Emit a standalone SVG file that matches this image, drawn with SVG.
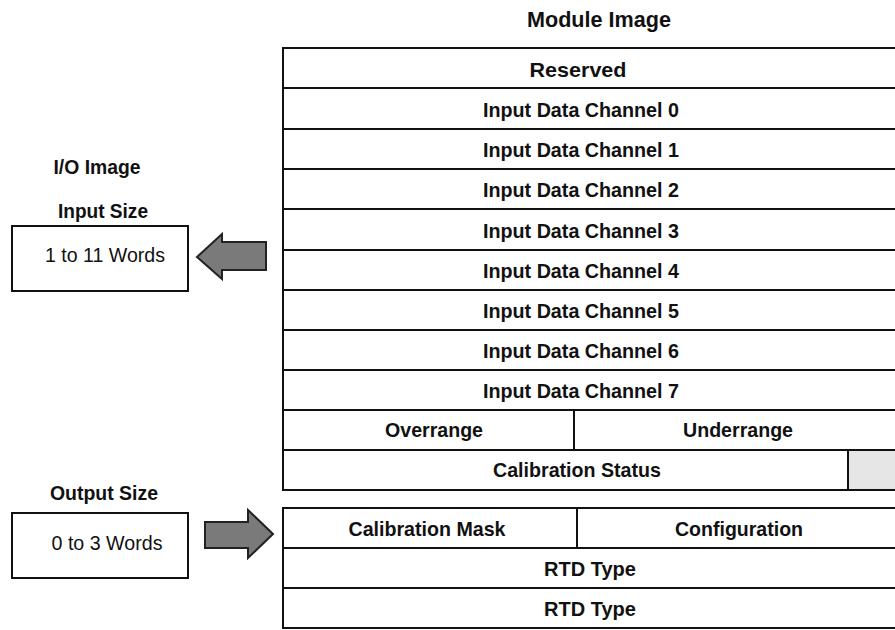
<svg xmlns="http://www.w3.org/2000/svg" width="895" height="630" viewBox="0 0 895 630">
<style>
.cell{fill:#fff;stroke:#111;stroke-width:2}
.gray{fill:#e6e6e6;stroke:#111;stroke-width:2}
.t{font-family:"Liberation Sans",Arial,sans-serif;font-weight:bold;font-size:21px;fill:#111;text-anchor:middle}
.lbl{font-family:"Liberation Sans",Arial,sans-serif;font-weight:bold;font-size:20px;fill:#111;text-anchor:middle}
.reg{font-family:"Liberation Sans",Arial,sans-serif;font-size:20px;fill:#111;text-anchor:middle}
.arrow{fill:#7a7a7a;stroke:#222;stroke-width:2;stroke-linejoin:miter}
</style>
<rect width="895" height="630" fill="#fff"/>
<text class="t" x="599" y="27" style="font-size:22px" textLength="144" lengthAdjust="spacingAndGlyphs">Module Image</text>
<text class="lbl" x="97" y="174" textLength="87" lengthAdjust="spacingAndGlyphs">I/O Image</text>
<text class="lbl" x="103" y="218" textLength="90" lengthAdjust="spacingAndGlyphs">Input Size</text>
<text class="lbl" x="104" y="500" textLength="108" lengthAdjust="spacingAndGlyphs">Output Size</text>

<g id="input-size-box">
<rect class="cell" x="12" y="226" width="176" height="65"/>
<text class="reg" x="105" y="262" textLength="120" lengthAdjust="spacingAndGlyphs">1 to 11 Words</text>
</g>
<g id="output-size-box">
<rect class="cell" x="12" y="513" width="176" height="65"/>
<text class="reg" x="107" y="550" textLength="111" lengthAdjust="spacingAndGlyphs">0 to 3 Words</text>
</g>

<g id="row-reserved"><rect class="cell" x="283" y="48" width="620" height="40"/><text class="t" x="578" y="77" textLength="97" lengthAdjust="spacingAndGlyphs">Reserved</text></g>
<g id="row-ch0"><rect class="cell" x="283" y="88" width="620" height="41"/><text class="t" x="581" y="117" textLength="196" lengthAdjust="spacingAndGlyphs">Input Data Channel 0</text></g>
<g id="row-ch1"><rect class="cell" x="283" y="129" width="620" height="40"/><text class="t" x="581" y="157" textLength="196" lengthAdjust="spacingAndGlyphs">Input Data Channel 1</text></g>
<g id="row-ch2"><rect class="cell" x="283" y="169" width="620" height="40"/><text class="t" x="581" y="197" textLength="196" lengthAdjust="spacingAndGlyphs">Input Data Channel 2</text></g>
<g id="row-ch3"><rect class="cell" x="283" y="209" width="620" height="41"/><text class="t" x="581" y="238" textLength="196" lengthAdjust="spacingAndGlyphs">Input Data Channel 3</text></g>
<g id="row-ch4"><rect class="cell" x="283" y="250" width="620" height="40"/><text class="t" x="581" y="278" textLength="196" lengthAdjust="spacingAndGlyphs">Input Data Channel 4</text></g>
<g id="row-ch5"><rect class="cell" x="283" y="290" width="620" height="40"/><text class="t" x="581" y="318" textLength="196" lengthAdjust="spacingAndGlyphs">Input Data Channel 5</text></g>
<g id="row-ch6"><rect class="cell" x="283" y="330" width="620" height="40"/><text class="t" x="581" y="358" textLength="196" lengthAdjust="spacingAndGlyphs">Input Data Channel 6</text></g>
<g id="row-ch7"><rect class="cell" x="283" y="370" width="620" height="40"/><text class="t" x="581" y="398" textLength="196" lengthAdjust="spacingAndGlyphs">Input Data Channel 7</text></g>
<g id="row-overrange"><rect class="cell" x="283" y="410" width="291" height="40"/><text class="t" x="434" y="437" textLength="98" lengthAdjust="spacingAndGlyphs">Overrange</text></g>
<g id="row-underrange"><rect class="cell" x="574" y="410" width="329" height="40"/><text class="t" x="738" y="437" textLength="110" lengthAdjust="spacingAndGlyphs">Underrange</text></g>
<g id="row-calstatus"><rect class="cell" x="283" y="450" width="620" height="40"/><rect class="gray" x="848" y="450" width="55" height="40"/><text class="t" x="577" y="477" textLength="168" lengthAdjust="spacingAndGlyphs">Calibration Status</text></g>

<g id="row-calmask"><rect class="cell" x="283" y="508" width="294" height="40"/><text class="t" x="427" y="536" textLength="157" lengthAdjust="spacingAndGlyphs">Calibration Mask</text></g>
<g id="row-config"><rect class="cell" x="577" y="508" width="326" height="40"/><text class="t" x="739" y="536" textLength="128" lengthAdjust="spacingAndGlyphs">Configuration</text></g>
<g id="row-rtd1"><rect class="cell" x="283" y="548" width="620" height="40"/><text class="t" x="590" y="576" textLength="92" lengthAdjust="spacingAndGlyphs">RTD Type</text></g>
<g id="row-rtd2"><rect class="cell" x="283" y="588" width="620" height="40"/><text class="t" x="590" y="616" textLength="92" lengthAdjust="spacingAndGlyphs">RTD Type</text></g>

<g id="connectors">
<polygon class="arrow" points="266,242 222,242 222,234 197,257 222,279 222,270 266,270"/>
<polygon class="arrow" points="205,522 248,522 248,510 273,534 248,558 248,548 205,548"/>
</g>
</svg>
